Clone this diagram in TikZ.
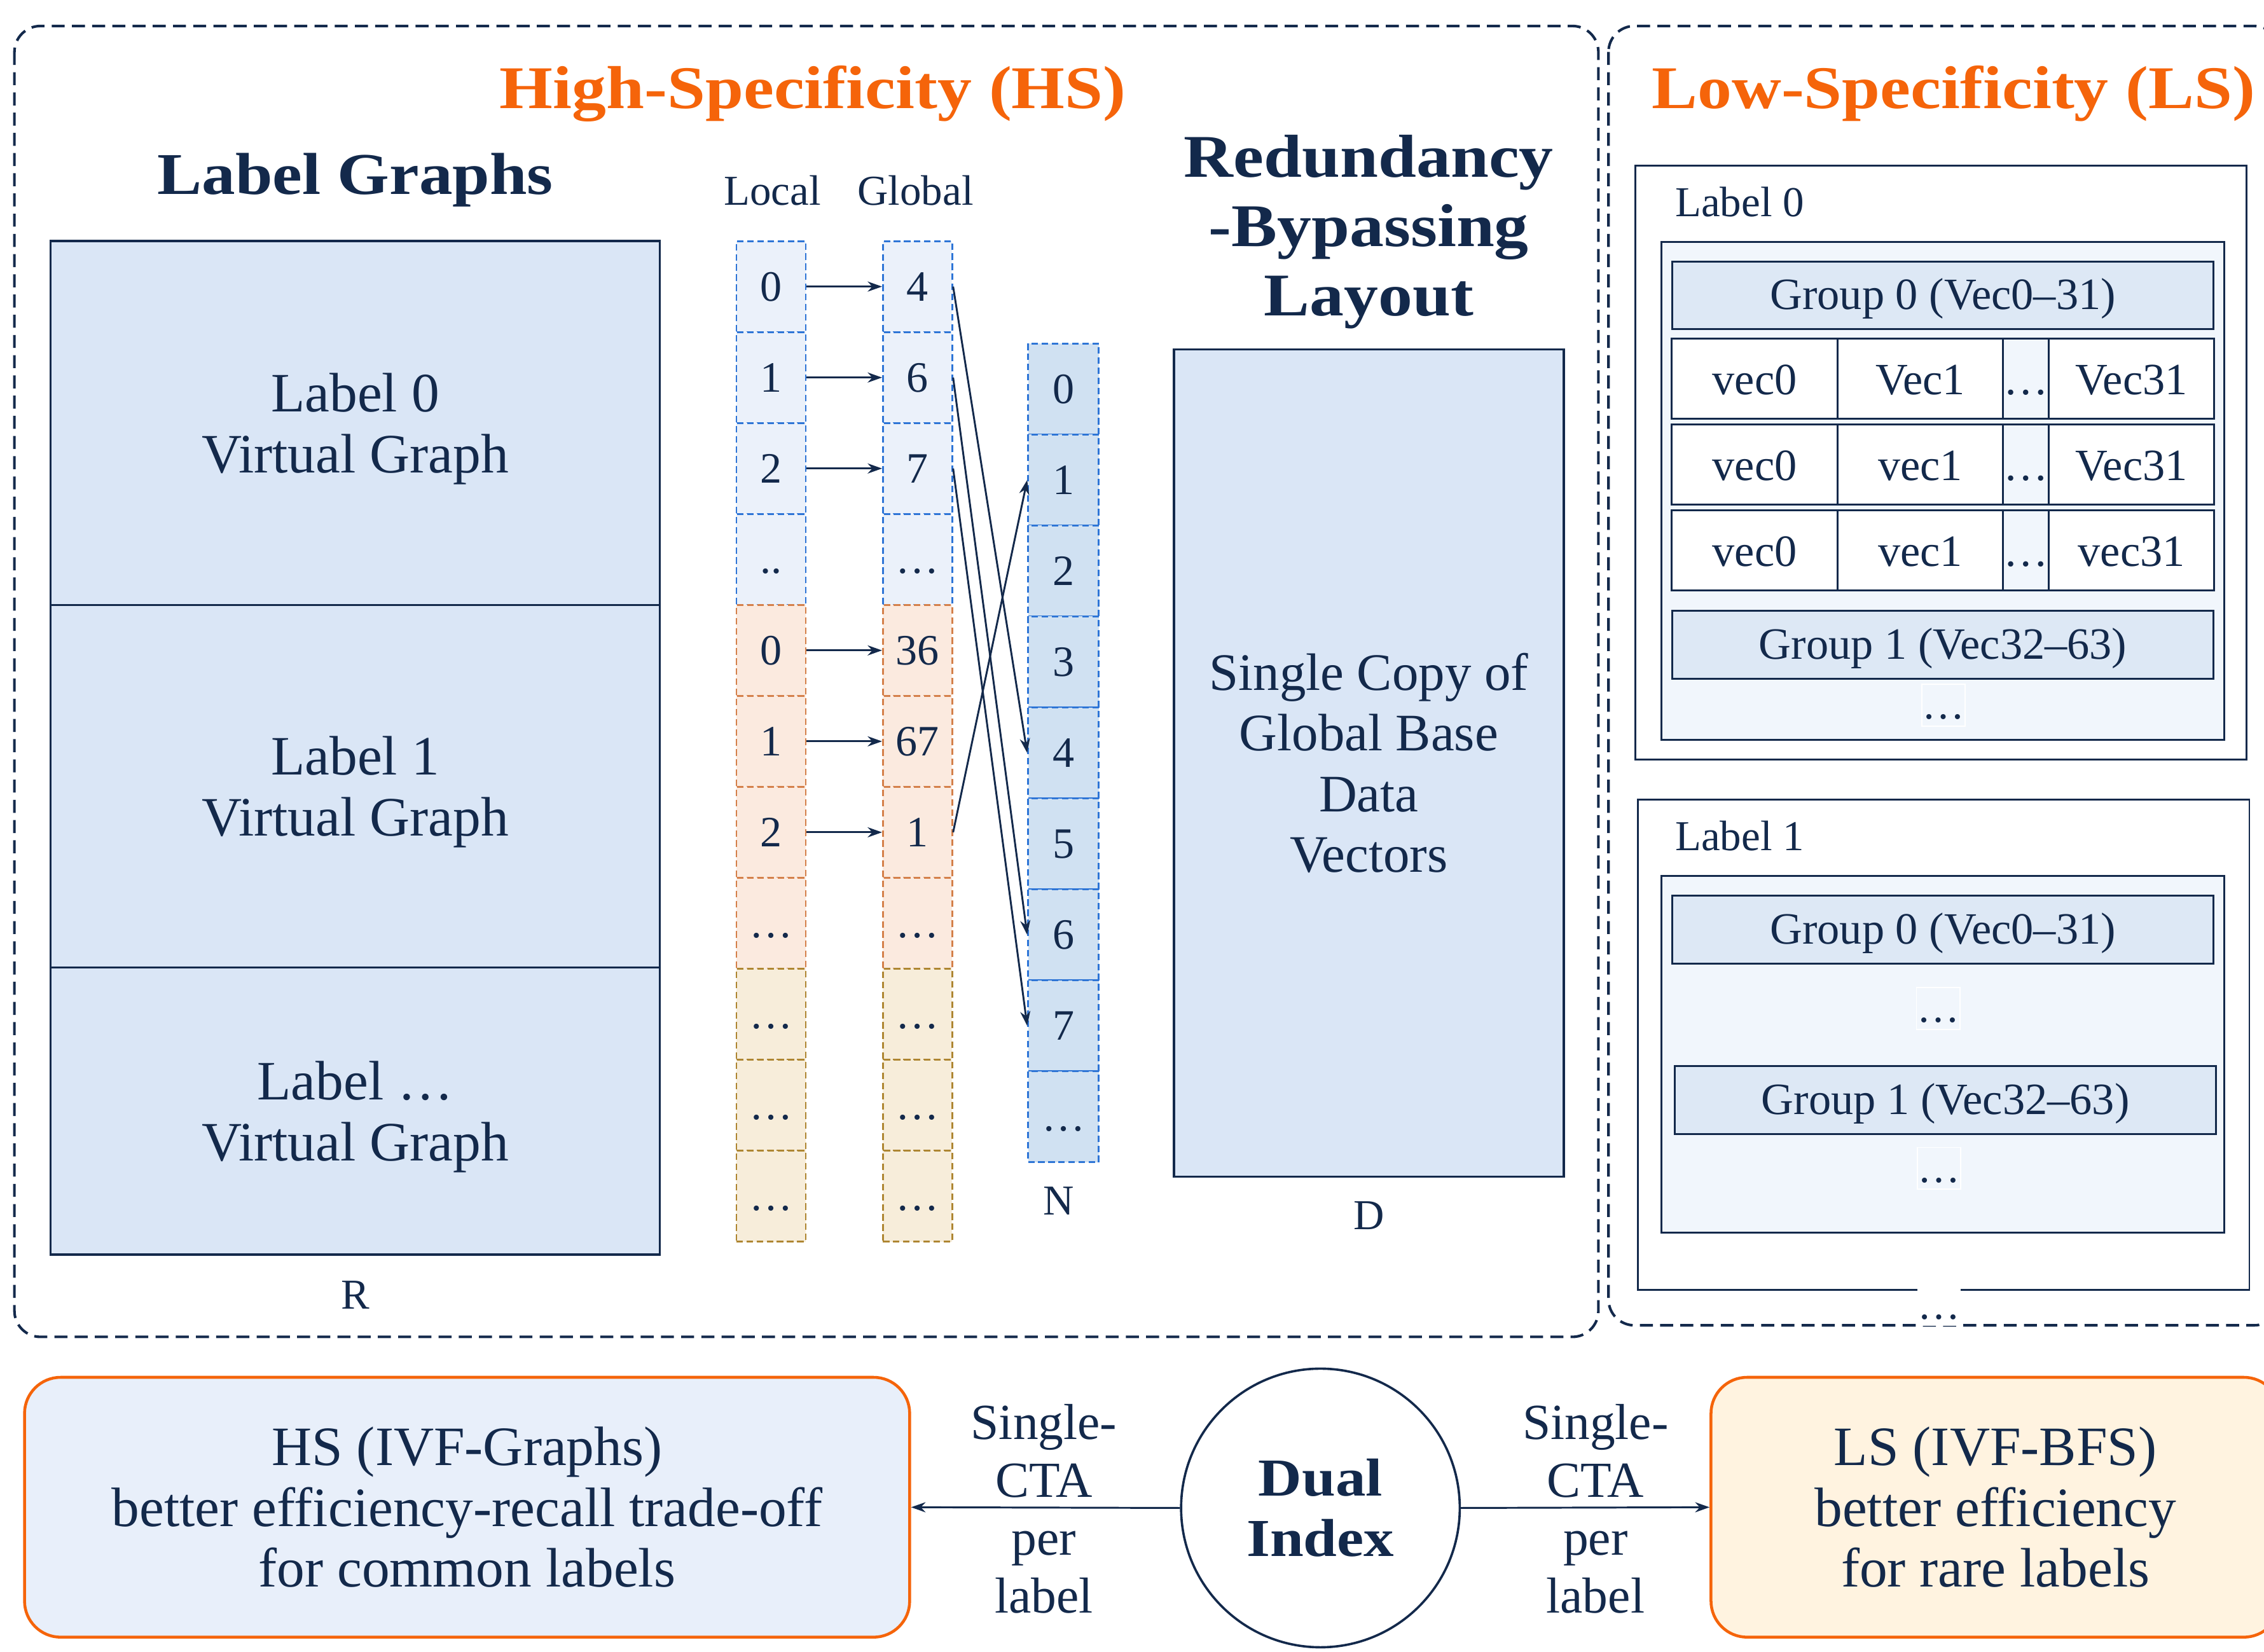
\documentclass[tikz,border=0pt]{standalone}
\usepackage{fontspec}
\setmainfont{Liberation Serif}
\newfontfamily\wideserif{Liberation Serif}[FakeStretch=1.13]
\usetikzlibrary{arrows.meta}
\definecolor{ink}{HTML}{13294B}
\definecolor{hsorange}{HTML}{F5640A}
\definecolor{lgfill}{HTML}{DAE6F6}
\definecolor{cbfill}{HTML}{EBF1FA}
\definecolor{cbline}{HTML}{2E75D6}
\definecolor{cpfill}{HTML}{FBEADF}
\definecolor{cpline}{HTML}{D4804A}
\definecolor{cyfill}{HTML}{F7EDDA}
\definecolor{cyline}{HTML}{AE8632}
\definecolor{nfill}{HTML}{D0E1F2}
\definecolor{lsinner}{HTML}{F1F6FC}
\definecolor{grpfill}{HTML}{DDE8F5}
\definecolor{hsbfill}{HTML}{E8EFFA}
\definecolor{lsbfill}{HTML}{FFF3E0}
\newcommand\ddd{…}
\newcommand\dd{..}
\newcommand\fTitle{\wideserif\bfseries\fontsize{42}{48}\selectfont}
\newcommand\fHead{\wideserif\bfseries\fontsize{41}{48}\selectfont}
\newcommand\fDual{\wideserif\bfseries\fontsize{37}{42}\selectfont}
\newcommand\fBig{\fontsize{38.5}{42}\selectfont}
\newcommand\fMid{\fontsize{36.5}{42}\selectfont}
\newcommand\fCta{\fontsize{35}{40}\selectfont}
\newcommand\fSmall{\fontsize{29.5}{34}\selectfont}
\newcommand\fVec{\fontsize{31}{34}\selectfont}
\newcommand\fCell{\fontsize{30}{34}\selectfont}
\begin{document}
\begin{tikzpicture}[x=1pt,y=-1pt,
  every node/.style={text=ink, inner sep=0pt},
  region/.style={draw=ink, line width=1.8pt, dash pattern=on 9pt off 5pt, rounded corners=18pt},
  solidbox/.style={draw=ink, line width=1.5pt},
  cell/.style={line width=1.2pt, dash pattern=on 4.5pt off 2.5pt, minimum width=48pt, minimum height=63pt, font=\fCell},
  cb/.style={cell, draw=cbline, fill=cbfill},
  cp/.style={cell, draw=cpline, fill=cpfill},
  cy/.style={cell, draw=cyline, fill=cyfill},
  cn/.style={cell, draw=cbline, fill=nfill, minimum width=49pt},
  arr/.style={draw=ink, line width=1.3pt, -{Stealth[length=10pt,width=7pt]}},
  vec/.style={draw=ink, line width=1.3pt, fill=white, minimum height=55.5pt, text height=24pt, text depth=2pt, font=\fVec},
  grp/.style={draw=ink, line width=1.3pt, fill=grpfill, minimum width=375pt, minimum height=47pt, text depth=2pt, font=\fVec},
  dotbox/.style={draw=white, line width=0.8pt, minimum width=30pt, text height=24pt, text depth=5pt, font=\fSmall},
  bottombox/.style={line width=2pt, draw=hsorange, rounded corners=25pt, minimum height=180pt, align=center, font=\fBig},
]
\useasboundingbox (0,0) rectangle (1568,1144);
\clip (0,0) rectangle (1568,1144);

% regions
\draw[region] (10,18) rectangle (1107,926);
\draw[region] (1114,18) rectangle (1579,918);

% titles
\node[font=\fTitle, text=hsorange, text depth=1pt] (hstitle) at (563,61) {High-Specificity (HS)};
\node[font=\fTitle, text=hsorange, text depth=1pt] (lstitle) at (1353,61) {Low-Specificity (LS)};
\node[font=\fHead, text depth=1pt] (lgtitle) at (246,121) {Label Graphs};
\node[font=\fSmall] (localt) at (535,132) {Local};
\node[font=\fSmall] (globalt) at (634,132) {Global};
\node[font=\fTitle, align=center, text depth=0pt] (rbl) at (948,156) {Redundancy\\-Bypassing\\Layout};

% label graphs
\node[solidbox, fill=lgfill, minimum width=422pt, minimum height=252pt, align=center, text depth=0pt, font=\fBig] (lg0) at (246,293) {Label 0\\Virtual Graph};
\node[solidbox, fill=lgfill, minimum width=422pt, minimum height=251pt, align=center, text depth=0pt, font=\fBig] (lg1) at (246,544.5) {Label 1\\Virtual Graph};
\node[solidbox, fill=lgfill, minimum width=422pt, minimum height=199pt, align=center, text depth=0pt, font=\fBig] (lg2) at (246,769.5) {Label \ddd\\Virtual Graph};
\node[font=\fSmall] (rlab) at (246,897) {R};

% local / global columns
\foreach \vi/\vl/\vg/\vs in {0/0/4/cb,1/1/6/cb,2/2/7/cb,3/\dd/\ddd/cb,4/0/36/cp,5/1/67/cp,6/2/1/cp,7/\ddd/\ddd/cp,8/\ddd/\ddd/cy,9/\ddd/\ddd/cy,10/\ddd/\ddd/cy}{
  \node[\vs] (L\vi) at (534,198.5+63*\vi) {\vphantom{0}\vl};
  \node[\vs] (G\vi) at (635.5,198.5+63*\vi) {\vphantom{0}\vg};
}
% N column
\foreach \vj/\vt in {0/0,1/1,2/2,3/3,4/4,5/5,6/6,7/7,8/\ddd}{
  \node[cn] (N\vj) at (736.5,269.5+63*\vj) {\vphantom{0}\vt};
}
\node[font=\fSmall] (nlab) at (733,832) {N};

\foreach \vi in {0,1,2,4,5,6}{
  \draw[arr] (L\vi.east) -- (G\vi.west);
}
\draw[arr] (G0.east) -- (N4.west);
\draw[arr] (G1.east) -- (N6.west);
\draw[arr] (G2.east) -- (N7.west);
\draw[arr] (G6.east) -- (N1.west);

% D box
\node[solidbox, fill=lgfill, minimum width=270pt, minimum height=573pt, align=center, font=\fMid] (dbox) at (948,528.5) {Single Copy of\\Global Base\\Data\\Vectors};
\node[font=\fSmall] (dlab) at (948,842) {D};

% LS label 0
\node[solidbox, line width=1.3pt, fill=white, minimum width=423pt, minimum height=411.5pt] (ls0) at (1344.2,320.5) {};
\node[font=\fSmall, anchor=west] (ls0t) at (1160,140) {Label 0};
\node[solidbox, line width=1.3pt, fill=lsinner, minimum width=389.6pt, minimum height=345pt] (ls0in) at (1345.6,340.1) {};
\node[grp] (ls0g0) at (1345.6,204.6) {Group 0 (Vec0–31)};
\foreach \vr/\vy/\va/\vb/\vc in {1/262.2/vec0/Vec1/Vec31,2/321.7/vec0/vec1/Vec31,3/381.2/vec0/vec1/vec31}{
  \node[vec, minimum width=115pt] (v\vr-a) at (1215.2,\vy) {\va};
  \node[vec, minimum width=114.7pt] (v\vr-b) at (1330,\vy) {\vb};
  \node[vec, fill=lsinner, minimum width=31.6pt] (v\vr-c) at (1403.2,\vy) {\ddd};
  \node[vec, minimum width=114.5pt] (v\vr-d) at (1476.2,\vy) {\vc};
}
\node[grp] (ls0g1) at (1345.6,446.7) {Group 1 (Vec32–63)};
\node[dotbox, fill=lsinner] (ls0dots) at (1346,488.5) {\ddd};

% LS label 1
\node[solidbox, line width=1.3pt, fill=white, minimum width=423.3pt, minimum height=339.6pt] (ls1) at (1346.2,723.7) {};
\node[font=\fSmall, anchor=west] (ls1t) at (1160,579) {Label 1};
\node[solidbox, line width=1.3pt, fill=lsinner, minimum width=389.6pt, minimum height=247.2pt] (ls1in) at (1345.6,730.1) {};
\node[grp] (ls1g0) at (1345.6,643.9) {Group 0 (Vec0–31)};
\node[dotbox, fill=lsinner] (ls1d0) at (1342.3,698.5) {\ddd};
\node[grp] (ls1g1) at (1347.4,762.1) {Group 1 (Vec32–63)};
\node[dotbox, fill=lsinner] (ls1d1) at (1343,809.3) {\ddd};
\node[dotbox, fill=white, draw=none] (lsmore) at (1343,904) {\ddd};

% bottom row
\node[bottombox, fill=hsbfill, minimum width=613pt] (hsbox) at (323.5,1044) {HS (IVF-Graphs)\\better efficiency-recall trade-off\\for common labels};
\node[bottombox, fill=lsbfill, minimum width=394pt] (lsbox) at (1382,1044) {LS (IVF-BFS)\\better efficiency\\for rare labels};
\node[circle, draw=ink, line width=1.6pt, fill=white, minimum size=193pt, align=center, font=\fDual] (dual) at (914.5,1044.5) {Dual\\Index};
\draw[arr] (dual.west) -- (hsbox.east);
\draw[arr] (dual.east) -- (lsbox.west);
\node[font=\fCta, align=center] (cta1) at (723,1045) {Single-\\CTA\\per\\label};
\node[font=\fCta, align=center] (cta2) at (1105,1045) {Single-\\CTA\\per\\label};
\end{tikzpicture}
\end{document}
